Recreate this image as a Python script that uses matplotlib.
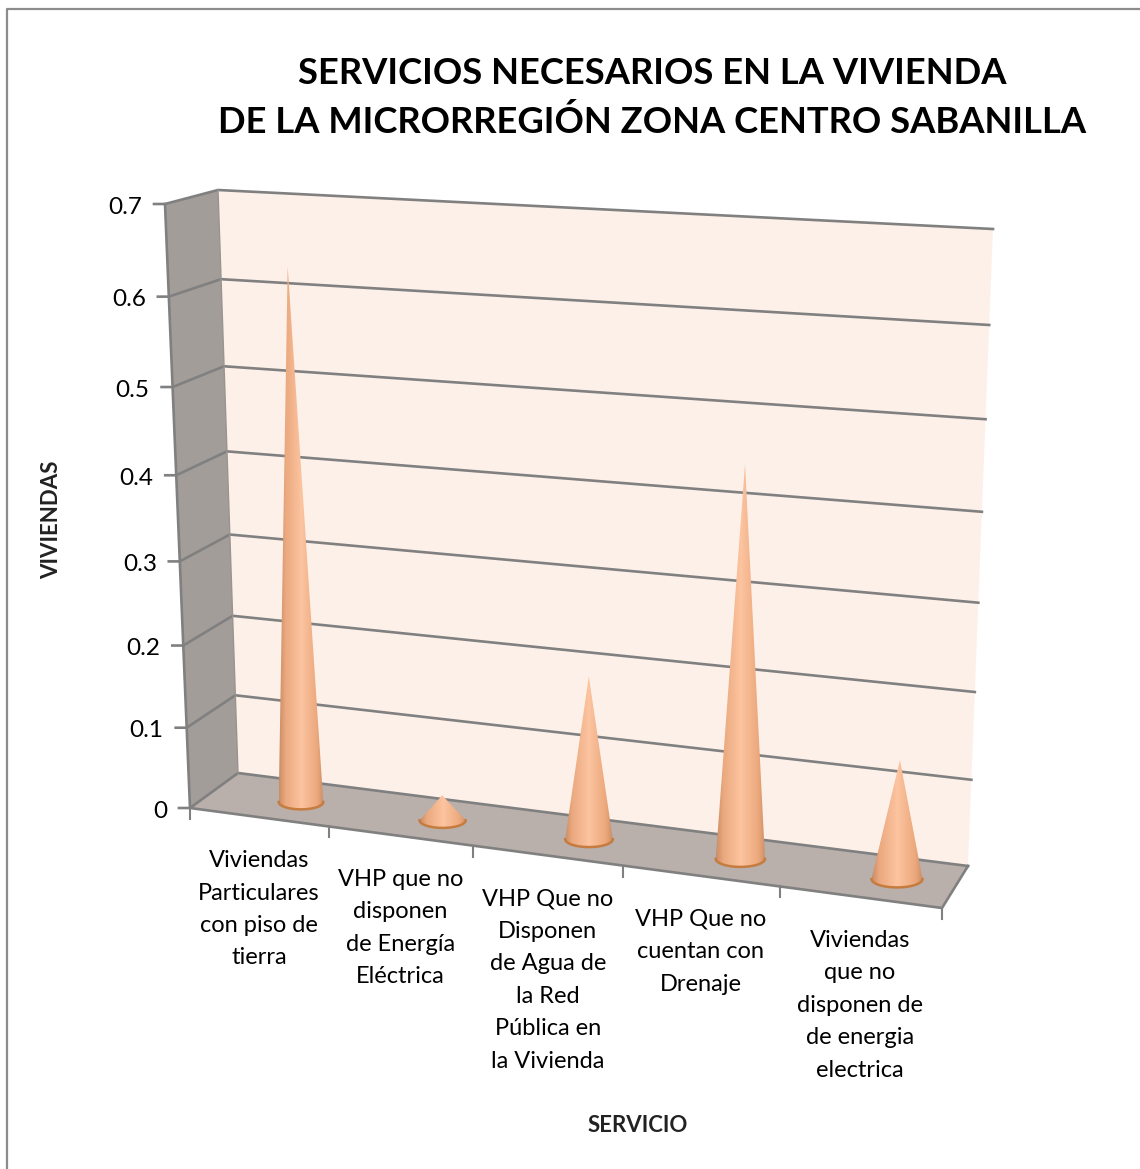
import numpy as np
import matplotlib
matplotlib.use('Agg')
import matplotlib.pyplot as plt
from matplotlib.colors import LinearSegmentedColormap
from matplotlib.patches import Polygon

plt.rcParams['font.family'] = ['Lato', 'DejaVu Sans']

title = "SERVICIOS NECESARIOS EN LA VIVIENDA\nDE LA MICRORREGIÓN ZONA CENTRO SABANILLA"
xlabel = "SERVICIO"
ylabel = "VIVIENDAS"
categories = [
    "Viviendas\nParticulares\ncon piso de\ntierra",
    "VHP que no\ndisponen\nde Energía\nEléctrica",
    "VHP Que no\nDisponen\nde Agua de\nla Red\nPública en\nla Vivienda",
    "VHP Que no\ncuentan con\nDrenaje",
    "Viviendas\nque no\ndisponen de\nde energia\nelectrica",
]
values = [0.625, 0.03, 0.19, 0.445, 0.135]
yticks = [0, 0.1, 0.2, 0.3, 0.4, 0.5, 0.6, 0.7]
ymax = 0.7
n = len(categories)


def homography(src, dst):
    # plain 4 point solve, gives the perspective of the excel 3d chart
    A, b = [], []
    for (u, v), (x, y) in zip(src, dst):
        A.append([u, v, 1, 0, 0, 0, -u * x, -v * x])
        A.append([0, 0, 0, u, v, 1, -u * y, -v * y])
        b += [x, y]
    h = np.linalg.solve(np.array(A, float), np.array(b, float))
    H = np.append(h, 1).reshape(3, 3)

    def f(u, v):
        p = H @ np.array([u, v, 1.0])
        return p[0] / p[2], p[1] / p[2]
    return f


# plot box in picture pixels
back_bl, back_br, back_tl, back_tr = (238, 773), (968, 866), (218, 190), (993, 229)
front_bl, front_br, front_tl = (190, 808), (942, 908), (165, 204)

wall = homography([(0, 0), (n, 0), (0, ymax), (n, ymax)], [back_bl, back_br, back_tl, back_tr])
side = homography([(0, 0), (1, 0), (0, ymax), (1, ymax)], [front_bl, back_bl, front_tl, back_tl])
floor = homography([(0, 0), (n, 0), (n, 1), (0, 1)], [front_bl, front_br, back_br, back_bl])
cone_plane = homography([(0, 0), (n - 1, 0), (0, ymax), (n - 1, ymax)],
                        [(301, 802), (897, 879), (286, 199), (913, 236)])

fig = plt.figure(figsize=(11.4, 11.69), dpi=100)
ax = fig.add_axes([0, 0, 1, 1])

grid_c = '#808080'
# only the top and left border of the chart area show in the crop
ax.plot([6.5, 6.5, 1140], [1169, 8.5, 8.5], color='#8c8c8c', lw=1.6)

ax.add_patch(Polygon([back_bl, back_br, back_tr, back_tl], fc='#fdf0e9', ec='none'))
ax.add_patch(Polygon([front_bl, back_bl, back_tl, front_tl], fc='#a39d99', ec='none'))
ax.add_patch(Polygon([front_bl, front_br, back_br, back_bl], fc='#b9afab', ec='none'))

for t in yticks:
    x0, y0 = side(0, t)
    x1, y1 = side(1, t)
    x2, y2 = wall(n, t)
    ax.plot([x0 - 11, x0, x1, x2], [y0, y0, y1, y2], color=grid_c, lw=1.9, solid_joinstyle='round')
    lab = '0' if t == 0 else f'{t:.1f}'
    ax.text(x0 - 23, y0 + 3, lab, ha='right', va='center', fontsize=17.5, color='black')

# outer edges of the box
ax.plot([front_tl[0], front_bl[0], front_br[0], back_br[0]],
        [front_tl[1], front_bl[1], front_br[1], back_br[1]], color=grid_c, lw=1.9)
ax.plot([back_tl[0], back_bl[0]], [back_tl[1], back_bl[1]], color='#9a9490', lw=1)

for i in range(n + 1):
    x, y = floor(i, 0)
    ax.plot([x, x], [y, y + 11], color=grid_c, lw=1.5)

# cones
cone_cmap = LinearSegmentedColormap.from_list(
    'cone', [(0, '#c98d66'), (0.15, '#eba97f'), (0.5, '#fcc4a0'), (0.85, '#eca87c'), (1, '#c98d66')])
grad = np.linspace(0, 1, 256).reshape(1, -1)
half_w = 0.16
for i, val in enumerate(values):
    ax_x, ax_y = cone_plane(i, val)
    bx, by = cone_plane(i, 0)
    xl, _ = cone_plane(i - half_w, 0)
    xr, _ = cone_plane(i + half_w, 0)
    a = (xr - xl) / 2
    b = a * 0.33
    th = np.linspace(0, np.pi, 40)
    arc_x = bx + a * np.cos(th)
    arc_y = by + b * np.sin(th)
    pts = np.vstack([[ax_x, ax_y], np.column_stack([arc_x, arc_y])])
    poly = Polygon(pts, closed=True, fc='none', ec='none', transform=ax.transData)
    ax.add_patch(poly)
    im = ax.imshow(grad, extent=[xl, xr, by + b, ax_y], cmap=cone_cmap, aspect='auto', zorder=3)
    im.set_clip_path(poly)
    ax.plot(arc_x, arc_y, color='#c67c3f', lw=1.8, zorder=4)

# category labels hang below the front edge
for i, lab in enumerate(categories):
    x, y = floor(i + 0.5, 0)
    ax.text(x, y + 33, lab, ha='center', va='top', fontsize=17, linespacing=1.67, color='black')

ax.text(652, 98, title, ha='center', va='center', fontsize=26.2, fontweight='bold', linespacing=1.55, color='black')
ax.text(638, 1125, xlabel, ha='center', va='center', fontsize=16, fontweight='bold', color='#222222')
ax.text(52, 520, ylabel, ha='center', va='center', rotation=90, fontsize=16, fontweight='bold', color='#222222')

ax.set_xlim(0, 1140)
ax.set_ylim(1169, 0)
ax.axis('off')

fig.savefig('out.png', dpi=100)
